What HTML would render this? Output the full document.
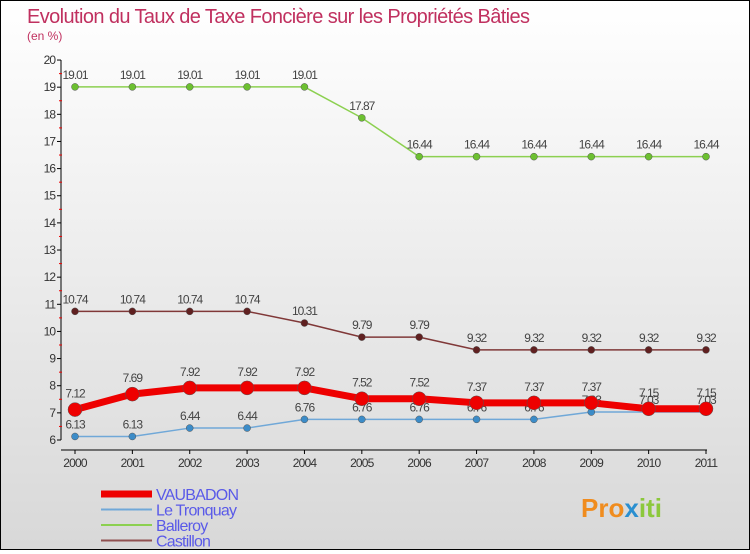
<!DOCTYPE html>
<html><head><meta charset="utf-8"><style>
body{margin:0}
#c{width:748px;height:548px;border:1px solid #000;background:linear-gradient(#fff,#d8d8d8);position:relative;font-family:"Liberation Sans",sans-serif}
</style></head><body>
<div id="c">
<svg id="s" width="748" height="548">
<text x="26" y="22" font-size="20" fill="#c0305f" letter-spacing="-0.6">Evolution du Taux de Taxe Foncière sur les Propriétés Bâties</text>
<text x="26" y="39" font-size="12" fill="#c0305f">(en %)</text>
<text x="580" y="516" font-size="26" font-weight="bold" fill="#f08c1e">Pro<tspan fill="#2a8fd0">x</tspan><tspan fill="#8cc83c">iti</tspan></text>
</svg></div>
<script>
const years=[2000,2001,2002,2003,2004,2005,2006,2007,2008,2009,2010,2011];
const vaubadon=[7.12,7.69,7.92,7.92,7.92,7.52,7.52,7.37,7.37,7.37,7.15,7.15];
const tronquay=[6.13,6.13,6.44,6.44,6.76,6.76,6.76,6.76,6.76,7.03,7.03,7.03];
const balleroy=[19.01,19.01,19.01,19.01,19.01,17.87,16.44,16.44,16.44,16.44,16.44,16.44];
const castillon=[10.74,10.74,10.74,10.74,10.31,9.79,9.79,9.32,9.32,9.32,9.32,9.32];
const yTicks=[6,7,8,9,10,11,12,13,14,15,16,17,18,19,20];
const names=["VAUBADON","Le Tronquay","Balleroy","Castillon"];
const s=document.getElementById('s');const NS="http://www.w3.org/2000/svg";
const X=i=>74+i*(631/11), Y=v=>439-(v-6)*27.14;
function mk(t,a,p){const e=document.createElementNS(NS,t);for(const k in a)e.setAttribute(k,a[k]);(p||s).appendChild(e);return e;}
let ax=mk('line',{x1:60,y1:Y(20),x2:60,y2:Y(6),stroke:'#000'});


let xa=mk('line',{x1:60,y1:449,x2:706,y2:449,stroke:'#000'});


yTicks.forEach(v=>{mk('line',{x1:56,x2:60,y1:Y(v),y2:Y(v),stroke:'#000'});
if(v<20)mk('line',{x1:58,x2:61,y1:Y(v+.5),y2:Y(v+.5),stroke:'#e00'});
const t=mk('text',{x:54,y:Y(v)+4,'text-anchor':'end','font-size':12,fill:'#333','letter-spacing':'-1'});t.textContent=v;

});
years.forEach((y,i)=>{mk('line',{x1:X(i),x2:X(i),y1:449,y2:453,stroke:'#000'});
const t=mk('text',{x:X(i),y:466,'text-anchor':'middle','font-size':12,fill:'#333','letter-spacing':'-0.8'});t.textContent=y;

});
const series=[[balleroy,'#8cd050','#6cc030',1.5,3.5,'balleroy'],[castillon,'#803838','#602020',1.5,3.5,'castillon'],[tronquay,'#70a8d8','#3c8cc8',1.5,3.5,'le-tronquay'],[vaubadon,'#ee0000','#ee0000',7,7,'vaubadon']];
series.forEach(([d,c,dc,w,r,n])=>{
const p=mk('polyline',{points:d.map((v,i)=>X(i)+','+Y(v)).join(' '),fill:'none',stroke:c,'stroke-width':w,'stroke-linejoin':'round'});


d.forEach((v,i)=>{const m=mk('circle',{cx:X(i),cy:Y(v),r:r,fill:dc,stroke:'#555','stroke-width':0.5});


const t=mk('text',{x:X(i),y:Y(v)-(w>5?12:8),'text-anchor':'middle','font-size':12,fill:'#444','letter-spacing':'-1'});t.textContent=v;

});});
const lc=['#ee0000','#70a8d8','#8cd050','#905050'],lw=[7,2,2,2];
names.forEach((n,i)=>{const y=493+i*15.5;
const l=mk('line',{x1:100,x2:151,y1:y,y2:y,stroke:lc[i],'stroke-width':lw[i]});


const t=mk('text',{x:155,y:y+6,'font-size':16,fill:'#5a5ae8','letter-spacing':'-0.8'});t.textContent=n;

});
</script></body></html>
